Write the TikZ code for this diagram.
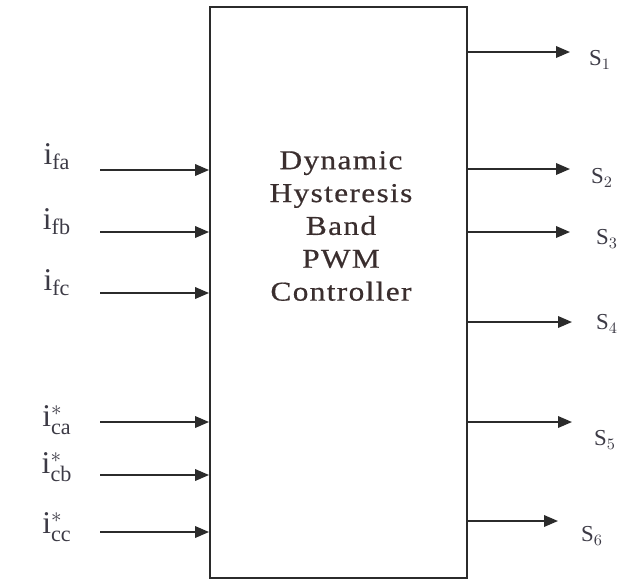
\documentclass[tikz,border=0pt]{standalone}
\usepackage{fontspec}
\setmainfont{Liberation Serif}
\newfontfamily\boxfont[FakeStretch=1.15, LetterSpace=5, FakeBold=0.6]{Liberation Serif}
\usetikzlibrary{arrows.meta, positioning}
\definecolor{cink}{HTML}{2B2B2B}
\definecolor{ctext}{HTML}{3A2E2E}
\definecolor{clabel}{HTML}{3C3A45}
\tikzset{
  every picture/.style={line width=1.1pt, x=0.02cm, y=-0.02cm},
  block/.style={draw=cink, minimum width=5.14cm, minimum height=11.42cm, inner sep=0pt},
  arrow/.style={-{Triangle[length=2.8mm, width=2.3mm]}, draw=cink, line width=1.1pt},
  inlabel/.style={font=\fontsize{18}{18}\selectfont, text=clabel, inner sep=1pt},
  outlabel/.style={font=\fontsize{13}{13}\selectfont, text=clabel, inner sep=1pt},
  blocktext/.style={font=\boxfont\fontsize{15.5}{18.7}\selectfont, text=ctext, align=center},
}
\begin{document}
\begin{tikzpicture}
  \useasboundingbox (0,0) rectangle (635,582);
  % controller block
  \node[block] (ctrl) at (338.5,292.5) {};
  \node[blocktext] (title) at (341,226) {Dynamic\\Hysteresis\\Band\\PWM\\Controller};
  % inputs
  \foreach \s/\y/\ly [count=\k] in {{_{\mathrm{fa}}}/170/157, {_{\mathrm{fb}}}/232/222, {_{\mathrm{fc}}}/293/283,
      {^{*}_{\mathrm{ca}}}/422/420, {^{*}_{\mathrm{cb}}}/475/467, {^{*}_{\mathrm{cc}}}/532/527} {
    \coordinate (in\k) at (100,\y);
    \node[inlabel] (i\k) at (57,\ly) {$\mathrm{i}\s$};
    \draw[arrow] (in\k) -- (in\k -| ctrl.west);
  }
  % outputs
  \foreach \y/\ex/\lx/\ly [count=\k] in {52/570/600/60, 169/570/602/178, 232/570/607/239,
      322/572/607/324, 422/572/605/440, 521/558/592/536} {
    \coordinate (out\k) at (\ex,\y);
    \node[outlabel] (s\k) at (\lx,\ly) {S$_{\k}$};
    \draw[arrow] (out\k -| ctrl.east) -- (out\k);
  }
\end{tikzpicture}
\end{document}
